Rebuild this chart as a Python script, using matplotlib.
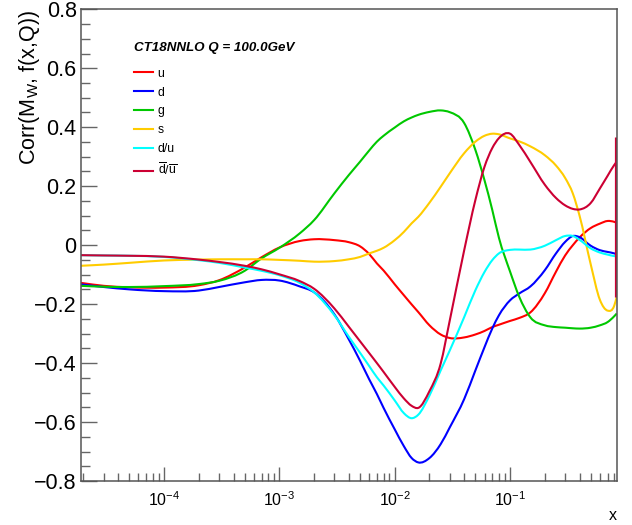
import matplotlib
matplotlib.use("Agg")
import numpy as np
import matplotlib.pyplot as plt
from matplotlib.path import Path
from matplotlib.patches import PathPatch
from matplotlib.lines import Line2D
from matplotlib.ticker import MultipleLocator, LogLocator, NullFormatter

plt.rcParams['font.family'] = ['Liberation Sans', 'DejaVu Sans']
plt.rcParams['mathtext.fontset'] = 'custom'
plt.rcParams['mathtext.rm'] = 'Liberation Sans'
plt.rcParams['mathtext.it'] = 'Liberation Sans:italic'
plt.rcParams['mathtext.bf'] = 'Liberation Sans:bold'
plt.rcParams['axes.unicode_minus'] = True

# x grid of the curves
x = [1.9e-5, 3e-5, 5e-5, 1e-4, 2e-4, 3e-4, 5e-4, 7e-4, 1e-3, 1.5e-3, 2e-3, 3e-3,
     4e-3, 5e-3, 6e-3, 7e-3, 8e-3, 1e-2, 1.2e-2, 1.4e-2, 1.6e-2, 2e-2, 2.5e-2, 3e-2,
     4e-2, 5e-2, 6e-2, 7e-2, 8e-2, 0.1, 0.12, 0.15, 0.2, 0.25, 0.3, 0.35, 0.4, 0.5,
     0.6, 0.7, 0.8, 0.84]

corr_u = [-0.128, -0.138, -0.143, -0.144, -0.136, -0.119, -0.076, -0.041, -0.008, 0.014,
          0.020, 0.017, 0.010, -0.004, -0.030, -0.062, -0.086, -0.133, -0.170, -0.201,
          -0.227, -0.272, -0.303, -0.315, -0.313, -0.303, -0.291, -0.278, -0.270, -0.257,
          -0.247, -0.228, -0.163, -0.090, -0.035, 0.000, 0.026, 0.058, 0.073, 0.082,
          0.079, 0.076]
corr_d = [-0.133, -0.142, -0.150, -0.156, -0.154, -0.142, -0.126, -0.118, -0.120, -0.140,
          -0.160, -0.235, -0.320, -0.392, -0.455, -0.505, -0.552, -0.625, -0.682, -0.722,
          -0.737, -0.722, -0.675, -0.618, -0.522, -0.425, -0.346, -0.283, -0.238, -0.187,
          -0.164, -0.140, -0.085, -0.028, 0.011, 0.031, 0.027, -0.002, -0.017, -0.023,
          -0.028, -0.031]
corr_g = [-0.138, -0.141, -0.142, -0.139, -0.132, -0.121, -0.087, -0.045, -0.009, 0.040,
          0.085, 0.176, 0.238, 0.283, 0.321, 0.351, 0.371, 0.399, 0.420, 0.433,
          0.442, 0.452, 0.457, 0.451, 0.414, 0.323, 0.220, 0.120, 0.025, -0.090,
          -0.175, -0.245, -0.272, -0.278, -0.280, -0.282, -0.283, -0.280, -0.272, -0.261,
          -0.241, -0.232]
corr_s = [-0.070, -0.066, -0.060, -0.052, -0.049, -0.048, -0.048, -0.048, -0.050, -0.053,
          -0.056, -0.054, -0.048, -0.040, -0.028, -0.019, -0.009, 0.017, 0.045, 0.074,
          0.096, 0.144, 0.198, 0.244, 0.312, 0.351, 0.371, 0.378, 0.376, 0.362,
          0.352, 0.335, 0.305, 0.270, 0.228, 0.175, 0.100, -0.065, -0.185, -0.222,
          -0.205, -0.176]
corr_du = [-0.034, -0.035, -0.036, -0.040, -0.051, -0.060, -0.076, -0.087, -0.102, -0.128,
           -0.160, -0.238, -0.311, -0.365, -0.410, -0.448, -0.476, -0.527, -0.570, -0.587,
           -0.575, -0.510, -0.425, -0.357, -0.244, -0.153, -0.091, -0.051, -0.028, -0.016,
           -0.015, -0.015, -0.002, 0.017, 0.031, 0.031, 0.018, -0.011, -0.025, -0.032,
           -0.037, -0.038]
corr_dbub = [-0.034, -0.035, -0.036, -0.039, -0.049, -0.057, -0.070, -0.082, -0.099, -0.122,
             -0.148, -0.215, -0.277, -0.326, -0.366, -0.400, -0.430, -0.481, -0.520, -0.545,
             -0.552, -0.495, -0.402, -0.255, -0.017, 0.153, 0.266, 0.329, 0.363, 0.378,
             0.340, 0.282, 0.205, 0.160, 0.135, 0.123, 0.121, 0.143, 0.192, 0.235,
             0.272, 0.283]
# spike of the dbar/ubar curve at the last x point
spike_x = 0.83
spike_lo, spike_hi = -0.176, 0.368

series = [
    ('u', corr_u, '#ff0000'),
    ('d', corr_d, '#0000ff'),
    ('g', corr_g, '#00c800'),
    ('s', corr_s, '#ffcc00'),
    ('d/u', corr_du, '#00ffff'),
    (r'$\overline{\mathrm{d}}/\overline{\mathrm{u}}$', corr_dbub, '#cc0033'),
]


def smooth_path(xs, ys):
    """cubic hermite bezier path through the points (tangents taken in log-x)"""
    u = np.log10(xs)
    y = np.asarray(ys, dtype=float)
    m = np.gradient(y, u)
    verts = [(xs[0], y[0])]
    codes = [Path.MOVETO]
    for i in range(len(u) - 1):
        h = u[i + 1] - u[i]
        c1 = (10 ** (u[i] + h / 3), y[i] + m[i] * h / 3)
        c2 = (10 ** (u[i + 1] - h / 3), y[i + 1] - m[i + 1] * h / 3)
        verts += [c1, c2, (xs[i + 1], y[i + 1])]
        codes += [Path.CURVE4] * 3
    return Path(verts, codes)


fig = plt.figure(figsize=(6.32, 5.25), dpi=100)
ax = fig.add_axes([0.128, 0.0838, 0.8478, 0.8985])

ax.set_xscale('log')
ax.set_xlim(1.9e-5, 0.84)
ax.set_ylim(-0.8, 0.8)

handles = []
for label, vals, col in series:
    ax.add_patch(PathPatch(smooth_path(x, vals), fill=False, edgecolor=col, lw=1.5))
    handles.append(Line2D([], [], color=col, lw=1.5, label=label))
ax.vlines(spike_x, spike_lo, spike_hi, color='#cc0033', lw=2.3)

ax.yaxis.set_major_locator(MultipleLocator(0.2))
ax.yaxis.set_minor_locator(MultipleLocator(0.05))
ax.xaxis.set_major_locator(LogLocator(base=10, numticks=20))
ax.xaxis.set_minor_locator(LogLocator(base=10, subs=range(2, 10), numticks=20))
ax.xaxis.set_minor_formatter(NullFormatter())
ax.set_yticks([-0.8, -0.6, -0.4, -0.2, 0, 0.2, 0.4, 0.6, 0.8])
ax.set_yticklabels(['\u22120.8', '\u22120.6', '\u22120.4', '\u22120.2', '0', '0.2', '0.4', '0.6', '0.8'])

tick_col = '#666666'
ax.tick_params(axis='x', which='major', direction='in', length=10, width=1, color=tick_col,
               labelsize=11.5, pad=7, top=False)
ax.tick_params(axis='x', which='minor', direction='in', length=5.5, width=1, color=tick_col, top=False)
ax.tick_params(axis='y', which='major', direction='in', length=11.5, width=1, color=tick_col,
               labelsize=15.5, pad=3, right=False)
ax.tick_params(axis='y', which='minor', direction='in', length=6.5, width=1, color=tick_col, right=False)
for sp in ax.spines.values():
    sp.set_color('#555555')
    sp.set_linewidth(1.1)

ax.set_ylabel(r'Corr(M$_{\mathrm{W}}$, f(x,Q))', fontsize=15.5, loc='top', labelpad=-6)
ax.set_xlabel('x', fontsize=11.5, loc='right')
ax.xaxis.set_label_coords(1.0, -0.057)

leg = ax.legend(handles=handles, loc='upper left', bbox_to_anchor=(0.100, 0.931), frameon=False,
                fontsize=8.8, handlelength=1.55, handletextpad=0.35, labelspacing=0.56,
                borderpad=0, borderaxespad=0, alignment='left',
                title='CT18NNLO Q = 100.0GeV',
                title_fontproperties={'size': 9.6, 'weight': 'bold', 'style': 'italic'})
leg._legend_box.sep = 10

fig.savefig('out.png', dpi=100)
